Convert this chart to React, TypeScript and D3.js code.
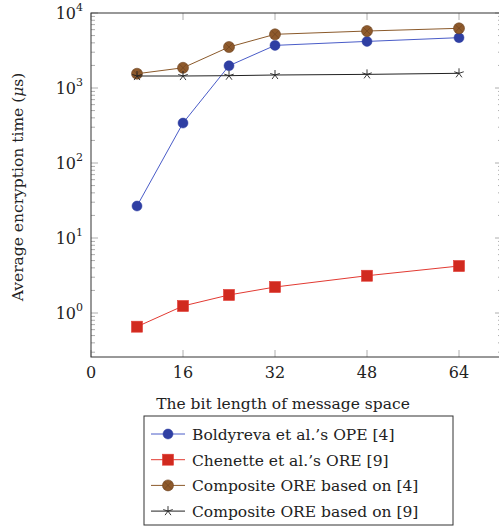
import React from "react";
import * as d3 from "d3";

const bits = [8, 16, 24, 32, 48, 64];
const boldyreva = [26.7, 341, 1980, 3700, 4180, 4690];
const chenette = [0.657, 1.24, 1.74, 2.22, 3.14, 4.23];
const compositeB = [1550, 1860, 3520, 5200, 5750, 6250];
const compositeC = [1445, 1445, 1460, 1490, 1520, 1570];
const xTicks = [0, 16, 32, 48, 64];
const yExponents = [0, 1, 2, 3, 4];
const legendLabels = [
  "Boldyreva et al.\u2019s OPE [4]",
  "Chenette et al.\u2019s ORE [9]",
  "Composite ORE based on [4]",
  "Composite ORE based on [9]",
];

const W = 499;
const H = 526;
const left = 91;
const top = 13;
const right = 502;
const bottom = 357;
const font = "DejaVu Serif";

const series = [
  { values: boldyreva, line: "#4a5cc8", fill: "#2f3fa3", mark: "circle" },
  { values: chenette, line: "#e23a32", fill: "#d12a1f", mark: "square" },
  { values: compositeB, line: "#8b5a2b", fill: "#8e5a2c", mark: "otimes" },
  { values: compositeC, line: "#222", fill: "#222", mark: "star" },
];

function Marker({ kind, x, y, line, fill }: any) {
  if (kind === "circle") return <circle cx={x} cy={y} r={5} fill={fill} stroke={fill} strokeWidth={0.5} />;
  if (kind === "square")
    return <rect x={x - 5.5} y={y - 5.5} width={11} height={11} fill={fill} stroke={line} strokeWidth={0.6} />;
  if (kind === "otimes") {
    const r = 5.5;
    const d = r * 0.707;
    return (
      <g>
        <circle cx={x} cy={y} r={r} fill={fill} stroke="#6b4220" strokeWidth={0.6} />
        <line x1={x - d} y1={y - d} x2={x + d} y2={y + d} stroke="#6b4220" strokeWidth={0.6} />
        <line x1={x - d} y1={y + d} x2={x + d} y2={y - d} stroke="#6b4220" strokeWidth={0.6} />
      </g>
    );
  }
  const r = 5;
  const arms = d3.range(5).map((i) => {
    const a = -Math.PI / 2 + (i * 2 * Math.PI) / 5;
    return <line key={i} x1={x} y1={y} x2={x + r * Math.cos(a)} y2={y + r * Math.sin(a)} stroke={fill} strokeWidth={0.9} />;
  });
  return <g>{arms}</g>;
}

export default function App() {
  const x = d3.scaleLinear().domain([0, (right - left) / 5.75]).range([left, right]);
  const yMin = Math.pow(10, 4 - (bottom - top) / 75);
  const y = d3.scaleLog().domain([yMin, 1e4]).range([bottom, top]);

  const minor: number[] = [];
  for (let e = -1; e < 4; e++) for (let m = 2; m <= 9; m++) {
    const v = m * Math.pow(10, e);
    if (v >= yMin && v <= 1e4) minor.push(v);
  }

  const lineGen = d3
    .line<number>()
    .x((_, i) => x(bits[i]))
    .y((d) => y(d));

  const tickColor = "#999";
  const txt = { fontFamily: font, fill: "#222" };

  return (
    <svg width={W} height={H} style={{ position: "absolute", left: 0, top: 0, background: "#fff" }}>
      {minor.map((v) => (
        <g key={v}>
          <line x1={left} x2={left + 4} y1={y(v)} y2={y(v)} stroke={tickColor} strokeWidth={0.8} />
          <line x1={right - 4} x2={right} y1={y(v)} y2={y(v)} stroke={tickColor} strokeWidth={0.8} />
        </g>
      ))}
      {yExponents.map((e) => (
        <g key={e}>
          <line x1={left} x2={left + 7} y1={y(Math.pow(10, e))} y2={y(Math.pow(10, e))} stroke={tickColor} strokeWidth={0.8} />
          <line x1={right - 7} x2={right} y1={y(Math.pow(10, e))} y2={y(Math.pow(10, e))} stroke={tickColor} strokeWidth={0.8} />
          <text x={left - 8} y={y(Math.pow(10, e)) + 6} textAnchor="end" style={{ ...txt, fontSize: 16 }}>
            10
            <tspan style={{ fontSize: 11 }} dy={-8}>{e}</tspan>
          </text>
        </g>
      ))}
      {xTicks.map((t) => (
        <g key={t}>
          <line x1={x(t)} x2={x(t)} y1={bottom} y2={bottom - 7} stroke={tickColor} strokeWidth={0.8} />
          <line x1={x(t)} x2={x(t)} y1={top} y2={top + 7} stroke={tickColor} strokeWidth={0.8} />
          <text x={x(t)} y={bottom + 21} textAnchor="middle" style={{ ...txt, fontSize: 16 }}>
            {t}
          </text>
        </g>
      ))}
      <rect x={left} y={top} width={right - left} height={bottom - top} fill="none" stroke="#333" strokeWidth={1} />

      {series.map((s, si) => (
        <g key={si}>
          <path d={lineGen(s.values) || ""} fill="none" stroke={s.line} strokeWidth={1} />
          {s.values.map((v, i) => (
            <Marker key={i} kind={s.mark} x={x(bits[i])} y={y(v)} line={s.line} fill={s.fill} />
          ))}
        </g>
      ))}

      <text x={283} y={409} textAnchor="middle" style={{ ...txt, fontSize: 15.5 }}>
        The bit length of message space
      </text>
      <text
        transform={`translate(23,${(top + bottom) / 2 + 2}) rotate(-90)`}
        textAnchor="middle"
        style={{ ...txt, fontSize: 15.5 }}
      >
        Average encryption time (<tspan style={{ fontStyle: "italic" }}>μ</tspan>s)
      </text>

      <rect x={144} y={416} width={309} height={109} fill="#fff" stroke="#333" strokeWidth={1} />
      {series.map((s, i) => {
        const ly = 434 + i * 25.7;
        return (
          <g key={i}>
            <line x1={151} x2={185} y1={ly} y2={ly} stroke={s.line} strokeWidth={1} />
            <Marker kind={s.mark} x={168} y={ly} line={s.line} fill={s.fill} />
            <text x={192} y={ly + 6} style={{ ...txt, fontSize: 15.5 }}>
              {legendLabels[i]}
            </text>
          </g>
        );
      })}
    </svg>
  );
}
